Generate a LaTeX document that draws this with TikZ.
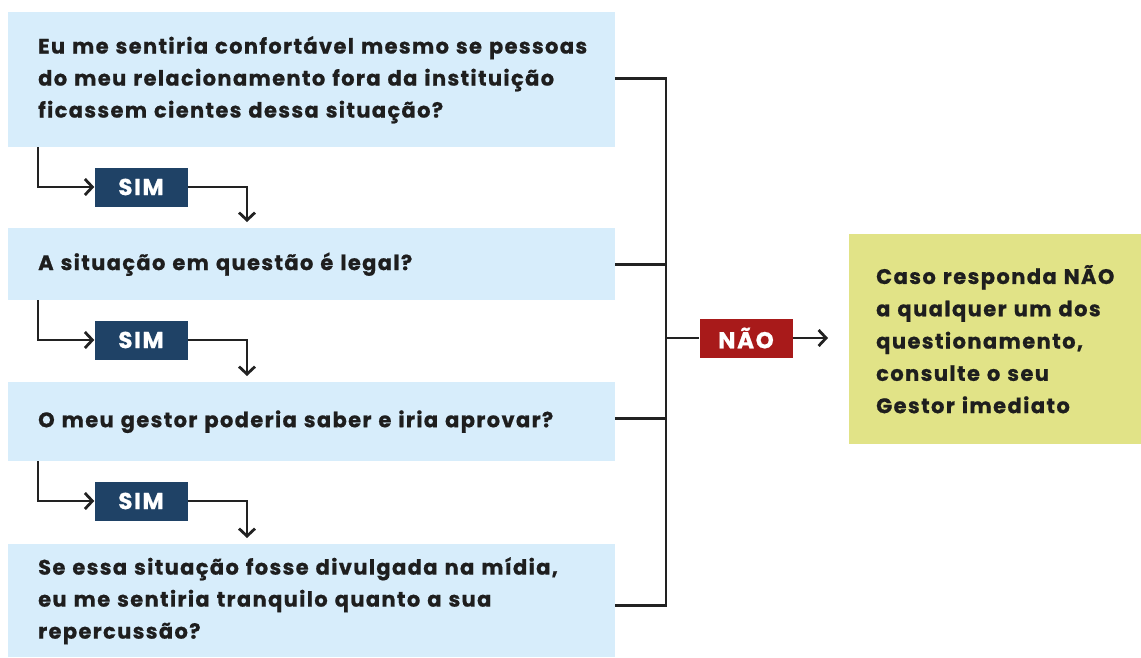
\documentclass[tikz,border=0pt]{standalone}
\usepackage{fontspec}
\setmainfont{Poppins}[BoldFeatures={FakeBold=0.8}]
\usetikzlibrary{arrows.meta}
\definecolor{qblue}{HTML}{D7EDFB}
\definecolor{simblue}{HTML}{1F4266}
\definecolor{naored}{HTML}{A81A1A}
\definecolor{resyellow}{HTML}{E1E387}
\definecolor{lc}{HTML}{222222}
\definecolor{txt}{HTML}{1E1E1E}
\newcommand\qln[1]{\mbox{#1}}
\begin{document}
\begin{tikzpicture}[x=1pt,y=-1pt,
  qbox/.style={fill=qblue, anchor=north west, text width=547pt, inner xsep=30pt, inner ysep=0pt,
    align=left, text=txt, font=\bfseries\fontsize{21}{32}\selectfont\addfontfeature{LetterSpace=6.5}},
  simbox/.style={fill=simblue, text=white, minimum width=93pt, minimum height=39pt, inner sep=0pt,
    font=\bfseries\fontsize{23}{23}\selectfont\addfontfeature{LetterSpace=7}},
  naobox/.style={fill=naored, text=white, minimum width=93pt, minimum height=39pt, inner sep=0pt,
    font=\bfseries\fontsize{23}{23}\selectfont\addfontfeature{LetterSpace=7}},
  resbox/.style={fill=resyellow, anchor=north west, text width=238pt, inner xsep=27pt, inner ysep=0pt,
    minimum height=210pt, align=left, text=txt, font=\bfseries\fontsize{21}{32.3}\selectfont\addfontfeature{LetterSpace=6.8}},
  conn/.style={draw=lc, line width=2.8pt},
  arr/.style={conn, -{Straight Barb[length=7.5pt,width=16pt]}}
]
\useasboundingbox (0,0) rectangle (1141,657);

\node[qbox, minimum height=135pt] (q1) at (8,12) {\qln{Eu me sentiria confortável mesmo se pessoas}\\\qln{do meu relacionamento fora da instituição}\\\qln{ficassem cientes dessa situação?}};
\node[qbox, minimum height=72pt] (q2) at (8,228) {\qln{A situação em questão é legal?}};
\node[qbox, minimum height=79pt] (q3) at (8,382) {\qln{O meu gestor poderia saber e iria aprovar?}};
\node[qbox, minimum height=113pt] (q4) at (8,544) {\qln{Se essa situação fosse divulgada na mídia,}\\\qln{eu me sentiria tranquilo quanto a sua}\\\qln{repercussão?}};

\node[simbox] (s1) at (141,187) {SIM};
\node[simbox] (s2) at (141,340) {SIM};
\node[simbox] (s3) at (141,501) {SIM};

\node[naobox] (nao) at (746,338) {NÃO};
\node[resbox] (res) at (849,234) {\qln{Caso responda NÃO}\\\qln{a qualquer um dos}\\\qln{questionamento,}\\\qln{consulte o seu}\\\qln{Gestor imediato}};

\coordinate (bt) at (666,0);
\coordinate (tip) at (828,338);

\draw[arr] ([xshift=30pt]q1.south west) |- (s1);
\draw[arr] (s1) -| ([xshift=239pt,yshift=6pt]q2.north west);
\draw[arr] ([xshift=30pt]q2.south west) |- (s2);
\draw[arr] (s2) -| ([xshift=239pt,yshift=6pt]q3.north west);
\draw[arr] ([xshift=30pt]q3.south west) |- (s3);
\draw[arr] (s3) -| ([xshift=239pt,yshift=6pt]q4.north west);

\draw[conn] ([yshift=1pt]q1.east) -| ([yshift=-5pt]q4.east -| bt) -- ([yshift=-5pt]q4.east);
\draw[conn] (q2.east) -- (q2.east -| bt);
\draw[conn] ([yshift=3pt]q3.east) -- ([yshift=3pt]q3.east -| bt);
\draw[conn] (nao.west -| bt) -- (nao);
\draw[arr] (nao) -- (tip);
\end{tikzpicture}
\end{document}
